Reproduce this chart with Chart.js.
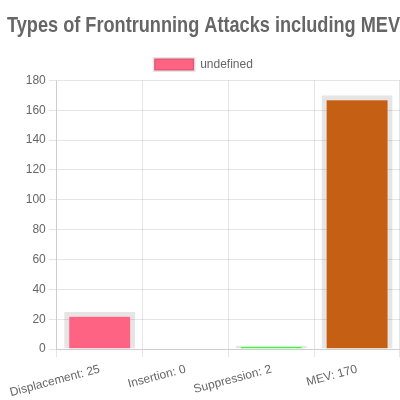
<!DOCTYPE html>
<html>
<head>
<meta charset="utf-8">
<script src="https://cdn.jsdelivr.net/npm/chart.js@4"></script>
<style>
html,body{margin:0;padding:0;background:#fff;}
#wrap{width:400px;height:400px;}
</style>
</head>
<body>
<div id="wrap"><canvas id="c" width="400" height="400"></canvas></div>
<script>
const categories = ['Displacement: 25', 'Insertion: 0', 'Suppression: 2', 'MEV: 170'];
const values = [25, 0, 2, 170];
const barColors = ['#ff6384', '#ff9f40', '#33ff33', '#c45f14'];
const seriesLabel = 'undefined';
const titleText = 'Types of Frontrunning Attacks including MEV';

Chart.defaults.font.family = '"Liberation Sans", Arial, sans-serif';
Chart.defaults.color = '#666';

new Chart(document.getElementById('c'), {
  type: 'bar',
  data: {
    labels: categories,
    datasets: [{
      label: seriesLabel,
      data: values,
      backgroundColor: barColors,
      borderColor: 'rgba(0,0,0,0.1)',
      borderWidth: (ctx) => (ctx.raw !== undefined && ctx.raw < 5) ? { top: 1, left: 5, right: 5, bottom: 0 } : 5,
      barPercentage: 0.92,
      categoryPercentage: 0.9
    }]
  },
  options: {
    responsive: false,
    animation: false,
    layout: { padding: { left: 7 } },
    plugins: {
      title: {
        display: true,
        text: titleText,
        color: '#666',
        font: { family: '"Liberation Sans", Arial, sans-serif', size: 22, weight: 'bold' },
        padding: { top: 13, bottom: 9 }
      },
      legend: {
        labels: {
          font: { size: 12 },
          generateLabels(chart) {
            const items = Chart.defaults.plugins.legend.labels.generateLabels(chart);
            items.forEach(it => { it.fillStyle = barColors[0]; it.strokeStyle = 'rgba(0,0,0,0.1)'; it.lineWidth = 3; });
            return items;
          }
        }
      }
    },
    scales: {
      x: {
        afterFit(scale) { scale.height -= 5; },
        ticks: { font: { size: 12 }, color: '#666', minRotation: 15, maxRotation: 15, padding: 5 },
        grid: { color: 'rgba(0,0,0,0.1)' }
      },
      y: {
        min: 0, max: 180,
        ticks: { stepSize: 20, font: { size: 12 }, color: '#666' },
        grid: { color: 'rgba(0,0,0,0.1)' }
      }
    }
  }
});
</script>
</body>
</html>
